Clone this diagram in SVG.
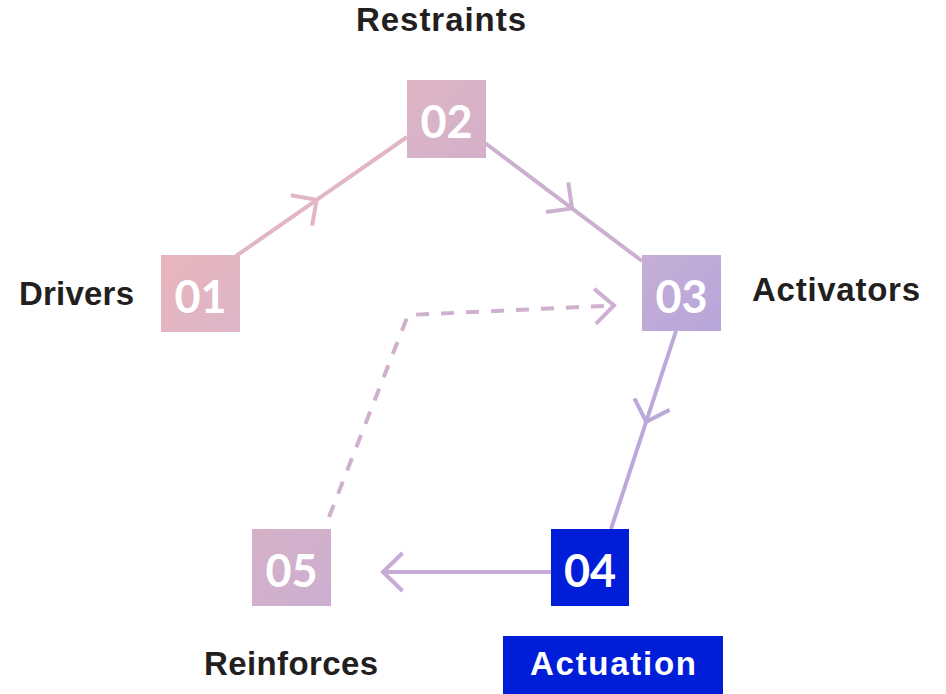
<svg xmlns="http://www.w3.org/2000/svg" width="946" height="694" viewBox="0 0 946 694">
  <style>
    .label { font-family: "Liberation Sans", Arial, sans-serif; font-weight: bold; font-size: 33px; fill: #231f20; }
    .num { font-family: Lato, "Liberation Sans", sans-serif; font-weight: bold; font-size: 45px; fill: #ffffff; text-anchor: middle; }
    .conn { fill: none; stroke-width: 4; }
  </style>
  <defs>
    <linearGradient id="g01" x1="0" y1="0" x2="1" y2="1">
      <stop offset="0" stop-color="#e9b5bb"/>
      <stop offset="1" stop-color="#dcb5c8"/>
    </linearGradient>
    <linearGradient id="g02" x1="0" y1="0" x2="1" y2="1">
      <stop offset="0" stop-color="#deb5c4"/>
      <stop offset="1" stop-color="#d3b0ca"/>
    </linearGradient>
    <linearGradient id="g03" x1="0" y1="0" x2="1" y2="1">
      <stop offset="0" stop-color="#c5afd6"/>
      <stop offset="1" stop-color="#b8a5da"/>
    </linearGradient>
    <linearGradient id="g05" x1="0" y1="0" x2="1" y2="1">
      <stop offset="0" stop-color="#d6b1c8"/>
      <stop offset="1" stop-color="#cbafd0"/>
    </linearGradient>
    <marker id="a12" markerUnits="userSpaceOnUse" orient="auto" overflow="visible" markerWidth="1" markerHeight="1" refX="0" refY="0">
      <path d="M-18.5,-18.5 L0,0 L-18.5,18.5" fill="none" stroke="#e3b6c4" stroke-width="4"/>
    </marker>
    <marker id="a23" markerUnits="userSpaceOnUse" orient="auto" overflow="visible" markerWidth="1" markerHeight="1" refX="0" refY="0">
      <path d="M-18.5,-18.5 L0,0 L-18.5,18.5" fill="none" stroke="#cdafcf" stroke-width="4"/>
    </marker>
    <marker id="a34" markerUnits="userSpaceOnUse" orient="auto" overflow="visible" markerWidth="1" markerHeight="1" refX="0" refY="0">
      <path d="M-18.5,-18.5 L0,0 L-18.5,18.5" fill="none" stroke="#bca9db" stroke-width="4"/>
    </marker>
    <marker id="a45" markerUnits="userSpaceOnUse" orient="auto" overflow="visible" markerWidth="1" markerHeight="1" refX="0" refY="0">
      <path d="M-19.5,-19 L0,0 L-19.5,19" fill="none" stroke="#c5abd5" stroke-width="4"/>
    </marker>
    <marker id="a53" markerUnits="userSpaceOnUse" orient="auto" overflow="visible" markerWidth="1" markerHeight="1" refX="0" refY="0">
      <path d="M-19,-17.5 L0,0 L-19,17.5" fill="none" stroke="#cdb0d2" stroke-width="4"/>
    </marker>
  </defs>

  <rect width="946" height="694" fill="#ffffff"/>

  <!-- connectors -->
  <g id="connectors">
    <path class="conn" d="M236,256 L316.7,199.8 L407,137" stroke="#e3b6c4" marker-mid="url(#a12)"/>
    <path class="conn" d="M485,143 L572,208.4 L642,261" stroke="#cdafcf" marker-mid="url(#a23)"/>
    <path class="conn" d="M676,331 L646.2,421.7 L611,529" stroke="#bca9db" marker-mid="url(#a34)"/>
    <path class="conn" d="M551,572 L383,572" stroke="#c5abd5" marker-end="url(#a45)"/>
    <path class="conn" d="M329,517 L408,315 L614,305.5" stroke="#d0b0cf" stroke-dasharray="13 12" marker-end="url(#a53)"/>
  </g>

  <!-- nodes -->
  <g id="node-01">
    <rect x="161" y="255" width="79" height="77" fill="url(#g01)"/>
    <text class="num" x="200.5" y="312.5">01</text>
    <text class="label" x="19" y="305" textLength="115" lengthAdjust="spacing">Drivers</text>
  </g>
  <g id="node-02">
    <rect x="407" y="80" width="79" height="78" fill="url(#g02)"/>
    <text class="num" x="446.5" y="138">02</text>
    <text class="label" x="356" y="31" textLength="170" lengthAdjust="spacing">Restraints</text>
  </g>
  <g id="node-03">
    <rect x="642" y="255" width="79" height="76" fill="url(#g03)"/>
    <text class="num" x="681.5" y="312.5">03</text>
    <text class="label" x="752" y="301" textLength="168" lengthAdjust="spacing">Activators</text>
  </g>
  <g id="node-04">
    <rect x="551" y="529" width="78" height="77" fill="#001ed8"/>
    <text class="num" x="590" y="587">04</text>
    <rect x="503" y="636" width="220" height="58" fill="#001ed8"/>
    <text class="label" x="530" y="675" textLength="166" lengthAdjust="spacing" style="fill:#ffffff">Actuation</text>
  </g>
  <g id="node-05">
    <rect x="252" y="529" width="79" height="77" fill="url(#g05)"/>
    <text class="num" x="291.5" y="587">05</text>
    <text class="label" x="204" y="675" textLength="174" lengthAdjust="spacing">Reinforces</text>
  </g>
</svg>
